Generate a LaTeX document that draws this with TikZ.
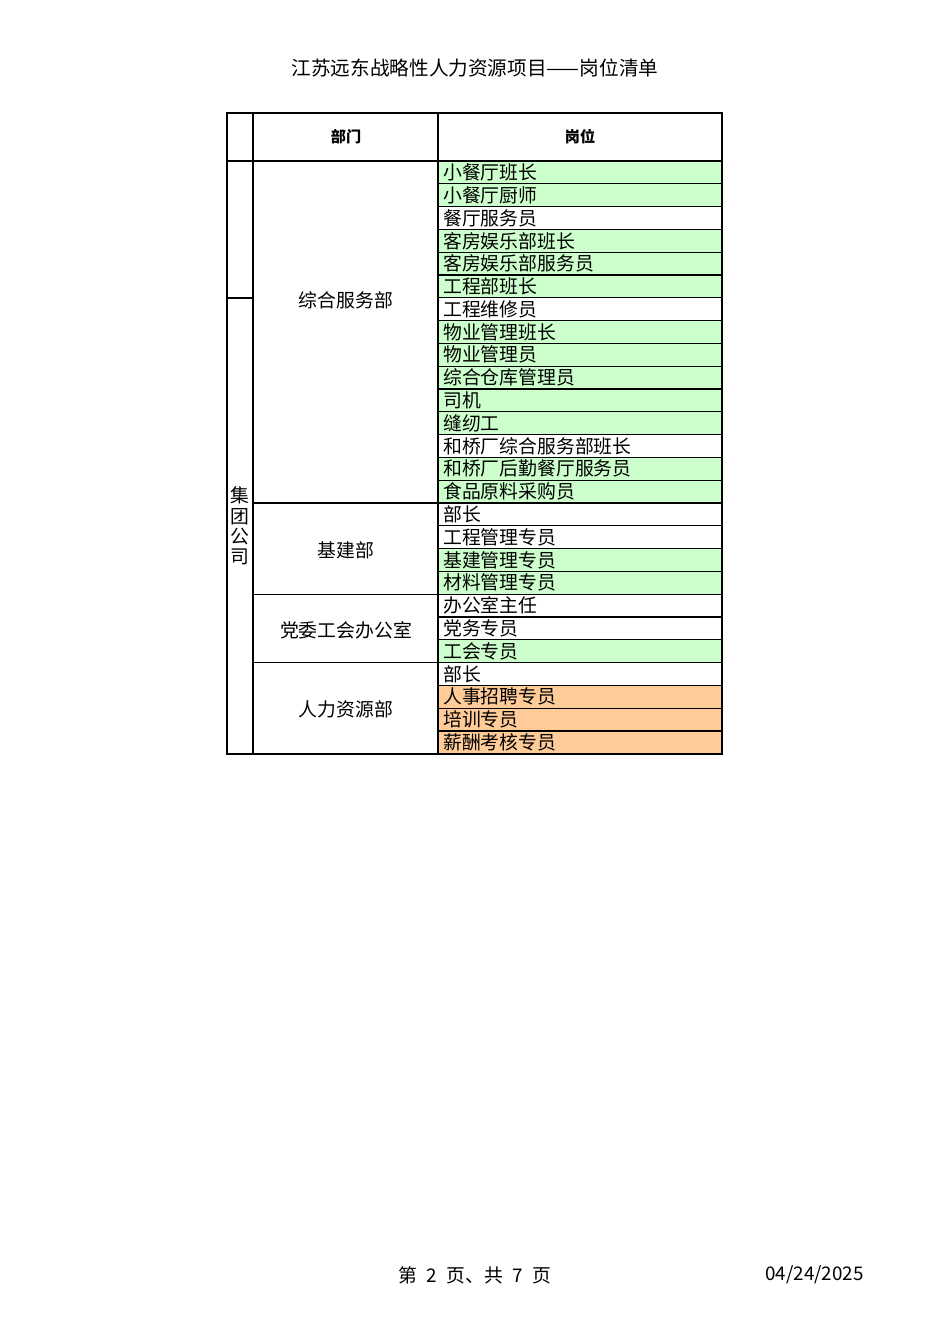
\documentclass[tikz,border=0pt]{standalone}
\usepackage{fontspec}
\newfontfamily\cjk{Noto Sans CJK SC}
\usetikzlibrary{positioning}
\definecolor{rowgreen}{HTML}{CCFFCC}
\definecolor{roworange}{HTML}{FFCC99}
\begin{document}
\begin{tikzpicture}[x=0.6266pt,y=-0.6266pt,
				every node/.style={font=\cjk\fontsize{11.8}{12.8}\selectfont,inner sep=0pt},
				post/.style={anchor=west},
				head/.style={font=\cjk\bfseries\fontsize{9.5}{11}\selectfont},
				rule/.style={line width=0.8pt}]
\useasboundingbox (0,0) rectangle (950,1344);
\node (title) at (475,68) {\fontsize{12.3}{13}\selectfont 江苏远东战略性人力资源项目——岗位清单};
% rows of the post column
\foreach \t/\c [count=\i] in {小餐厅班长/rowgreen, 小餐厅厨师/rowgreen, 餐厅服务员/white,
	客房娱乐部班长/rowgreen, 客房娱乐部服务员/rowgreen, 工程部班长/rowgreen, 工程维修员/white,
	物业管理班长/rowgreen, 物业管理员/rowgreen, 综合仓库管理员/rowgreen, 司机/rowgreen,
	缝纫工/rowgreen, 和桥厂综合服务部班长/white, 和桥厂后勤餐厅服务员/rowgreen,
	食品原料采购员/rowgreen, 部长/white, 工程管理专员/white, 基建管理专员/rowgreen,
	材料管理专员/rowgreen, 办公室主任/white, 党务专员/white, 工会专员/rowgreen,
	部长/white, 人事招聘专员/roworange, 培训专员/roworange, 薪酬考核专员/roworange}
{
	\fill[\c] (438,{161+(\i-1)*22.8}) rectangle (722,{161+\i*22.8});
	\node[post] (p\i) at (443,{161+(\i-0.5)*22.8}) {\t};
}
\foreach \i in {1,...,25}
	\draw[rule] (438,{161+\i*22.8}) -- (722,{161+\i*22.8});
% frame
\draw[rule] (227,113) rectangle (722,754);
\draw[rule] (253,113) -- (253,754) (438,113) -- (438,754);
\draw[rule] (227,161) -- (722,161) (227,298) -- (253,298);
\foreach \r in {15,19,22}
	\draw[rule] (253,{161+\r*22.8}) -- (438,{161+\r*22.8});
\node[head] (dept) at (346,137) {部门};
\node[head] (post) at (580,137) {岗位};
\node[align=center] (group) at (240,526) {集\\团\\公\\司};
\node (d1) at (346,300) {综合服务部};
\node (d2) at (346,550) {基建部};
\node (d3) at (346,630) {党委工会办公室};
\node (d4) at (346,709) {人力资源部};
% footer
\node (page) at (475,1275) {第\hspace{0.5em}2\hspace{0.5em}页、共\hspace{0.5em}7\hspace{0.5em}页};
\node[anchor=east] (date) at (864,1275) {04/24/2025};
\end{tikzpicture}
\end{document}
